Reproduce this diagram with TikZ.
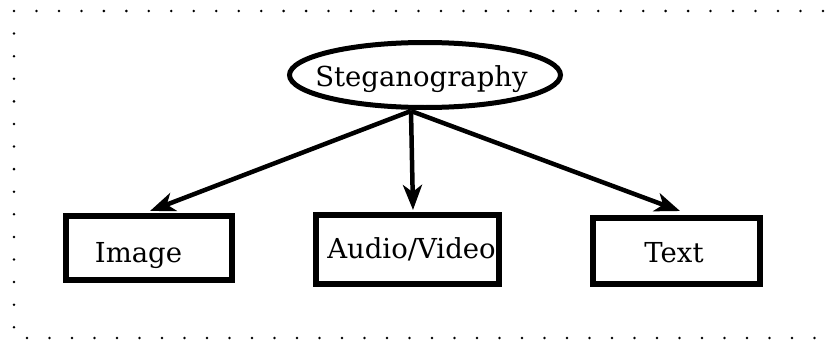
\documentclass[tikz,border=0pt]{standalone}
\usepackage{fontspec}
\setmainfont{DejaVu Serif}
\usetikzlibrary{arrows.meta,shapes.geometric,calc}
\tikzset{
  boxnode/.style={draw, line width=6pt, rectangle, inner sep=0pt},
  ellnode/.style={draw, line width=5pt, ellipse, inner sep=0pt},
  lbl/.style={anchor=base, inner sep=0pt, font=\fontsize{27.5}{32}\selectfont},
  conn/.style={line width=4.5pt, -{Stealth[length=25pt,width=19pt,inset=7pt]}},
  dot/.style={fill=black}
}
\begin{document}
\begin{tikzpicture}[x=1pt,y=-1pt]
\useasboundingbox (0,0) rectangle (827,340);
% dotted frame
\foreach \i in {0,...,36} \fill[dot] (14+22.47*\i,11) circle (1.4);
\foreach \j in {1,...,14} \fill[dot] (14,11+22.59*\j) circle (1.4);
\foreach \k in {0,...,35} \fill[dot] (27+22.5*\k,338) circle (1.4);
% nodes
\node[ellnode, minimum width=271pt, minimum height=65pt] (steg) at (425,75) {};
\node[lbl] (stegt) at (421.5,86.5) {Steganography};
\node[boxnode, minimum width=166pt, minimum height=64pt] (img) at (149,248) {};
\node[lbl] (imgt) at (138.5,262) {Image};
\node[boxnode, minimum width=183pt, minimum height=69pt] (av) at (407.5,249.5) {};
\node[lbl] (avt) at (411.5,258.5) {Audio/Video};
\node[boxnode, minimum width=167pt, minimum height=66pt] (txt) at (676.5,251) {};
\node[lbl] (txtt) at (674,262) {Text};
\coordinate (hub) at (411,111);
% connectors
\draw[conn] (hub) -- ($(img.north)+(1,-2)$);
\draw[conn] (hub) -- ($(av.north)+(5.5,-2)$);
\draw[conn] (hub) -- ($(txt.north)+(3.5,-4)$);
\end{tikzpicture}
\end{document}
